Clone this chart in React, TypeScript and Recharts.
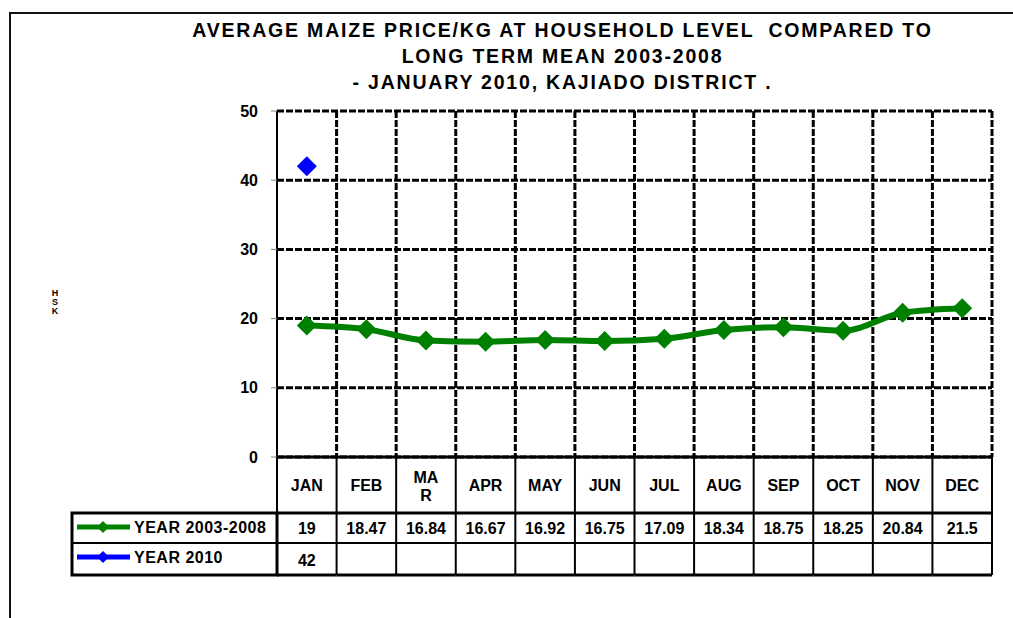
import { CartesianGrid, Line, LineChart, XAxis, YAxis } from "recharts"

const months = ["JAN", "FEB", "MAR", "APR", "MAY", "JUN", "JUL", "AUG", "SEP", "OCT", "NOV", "DEC"]
const longTermMean = [19, 18.47, 16.84, 16.67, 16.92, 16.75, 17.09, 18.34, 18.75, 18.25, 20.84, 21.5]
const year2010: (number | null)[] = [42, null, null, null, null, null, null, null, null, null, null, null]
const yTicks = [0, 10, 20, 30, 40, 50]

const seriesNames = ["YEAR 2003-2008", "YEAR 2010"]
const seriesColors = ["#008000", "#0000FF"]

const data = months.map((m, i) => ({ month: m, mean: longTermMean[i], y2010: year2010[i] }))

const W = 1013
const H = 618
const PLOT_LEFT = 277
const PLOT_RIGHT = 992
const PLOT_TOP = 111
const PLOT_BOTTOM = 457
const ROW1 = 513
const ROW2 = 543
const ROW_END = 575
const CELL = (PLOT_RIGHT - PLOT_LEFT) / months.length
const font = "'Liberation Sans', Arial, sans-serif"

function Diamond(props: any) {
  const { cx, cy, fill, r = 10 } = props
  if (cx == null || cy == null) return null
  return <path d={`M${cx - r},${cy} L${cx},${cy - r} L${cx + r},${cy} L${cx},${cy + r} Z`} fill={fill} />
}

function TableColumn(props: any) {
  const { x, payload } = props
  const i = payload.index
  const left = x - CELL / 2
  const right = x + CELL / 2
  const label = months[i]
  const v1 = longTermMean[i]
  const v2 = year2010[i]
  const txt = { fontFamily: font, fontWeight: 700, fontSize: 16, fill: "#000", textAnchor: "middle" as const }
  return (
    <g>
      {label === "MAR" ? (
        <text {...txt} x={x}>
          <tspan x={x} y={483}>MA</tspan>
          <tspan x={x} y={501}>R</tspan>
        </text>
      ) : (
        <text {...txt} x={x} y={491}>{label}</text>
      )}
      <text {...txt} x={x} y={534}>{v1}</text>
      {v2 != null && <text {...txt} x={x} y={566}>{v2}</text>}
      <line x1={right} x2={right} y1={PLOT_BOTTOM} y2={ROW_END} stroke="#000" strokeWidth={2} />
      <line x1={left} x2={right} y1={ROW1} y2={ROW1} stroke="#000" strokeWidth={3} />
      <line x1={left} x2={right} y1={ROW2} y2={ROW2} stroke="#000" strokeWidth={2} />
      <line x1={left} x2={right} y1={ROW_END} y2={ROW_END} stroke="#000" strokeWidth={3} />
      {i === 0 && (
        <g>
          <line x1={left} x2={left} y1={PLOT_BOTTOM} y2={ROW_END} stroke="#000" strokeWidth={2} />
          <rect x={72} y={ROW1} width={left - 72} height={ROW_END - ROW1} fill="none" stroke="#000" strokeWidth={3} />
          <line x1={72} x2={left} y1={ROW2} y2={ROW2} stroke="#000" strokeWidth={2} />
          {seriesNames.map((name, k) => {
            const cy = k === 0 ? 527 : 557
            return (
              <g key={name}>
                <line x1={77} x2={130} y1={cy} y2={cy} stroke={seriesColors[k]} strokeWidth={5} />
                <Diamond cx={103} cy={cy} r={6} fill={seriesColors[k]} />
                <text x={134} y={cy + 6} fontFamily={font} fontWeight={700} fontSize={16} letterSpacing={0.5} fill="#000">
                  {name}
                </text>
              </g>
            )
          })}
        </g>
      )}
    </g>
  )
}

export default function App() {
  return (
    <div style={{ position: "absolute", left: 0, top: 0, width: W, height: H, background: "#fff", overflow: "hidden" }}>
      <div style={{ position: "absolute", left: 9, top: 12, width: W, height: H, borderLeft: "2px solid #111", borderTop: "2px solid #111" }} />
      <div
        style={{
          position: "absolute",
          left: 0,
          width: W,
          top: 17,
          textAlign: "center",
          fontFamily: font,
          fontWeight: 700,
          fontSize: 19.5,
          letterSpacing: 1.8,
          lineHeight: "26px",
          paddingLeft: 112,
          boxSizing: "border-box",
          whiteSpace: "pre",
        }}
      >
        {"AVERAGE MAIZE PRICE/KG AT HOUSEHOLD LEVEL  COMPARED TO\nLONG TERM MEAN 2003-2008\n- JANUARY 2010, KAJIADO DISTRICT ."}
      </div>
      <div
        style={{
          position: "absolute",
          left: 49,
          top: 289,
          width: 12,
          textAlign: "center",
          fontFamily: font,
          fontWeight: 700,
          fontSize: 9,
          lineHeight: "9px",
        }}
      >
        H<br />S<br />K
      </div>
      <div style={{ position: "absolute", left: 0, top: 0 }}>
        <LineChart
          width={W}
          height={H}
          data={data}
          margin={{ top: PLOT_TOP, right: W - PLOT_RIGHT, left: PLOT_LEFT - 40, bottom: H - PLOT_BOTTOM - 120 }}
        >
          <CartesianGrid
            stroke="#000"
            strokeWidth={3}
            strokeDasharray="7 2"
            verticalCoordinatesGenerator={() => months.map((_, i) => PLOT_LEFT + CELL * (i + 1))}
          />
          <XAxis
            dataKey="month"
            height={120}
            padding={{ left: CELL / 2, right: CELL / 2 }}
            axisLine={{ stroke: "#000", strokeWidth: 3 }}
            tickLine={false}
            tick={<TableColumn />}
            interval={0}
          />
          <YAxis
            width={40}
            domain={[0, 50]}
            ticks={yTicks}
            interval={0}
            axisLine={{ stroke: "#000", strokeWidth: 2 }}
            tickLine={{ stroke: "#808080", strokeWidth: 1 }}
            tickSize={6}
            tickMargin={13}
            tick={{ fontFamily: font, fontWeight: 700, fontSize: 16, fill: "#000" }}
          />
          <Line
            dataKey="mean"
            type="monotone"
            stroke={seriesColors[0]}
            strokeWidth={6}
            dot={<Diamond fill={seriesColors[0]} r={10} />}
            activeDot={false}
            isAnimationActive={false}
          />
          <Line
            dataKey="y2010"
            type="monotone"
            stroke={seriesColors[1]}
            strokeWidth={5}
            dot={<Diamond fill={seriesColors[1]} r={10} />}
            activeDot={false}
            connectNulls={false}
            isAnimationActive={false}
          />
        </LineChart>
      </div>
    </div>
  )
}
